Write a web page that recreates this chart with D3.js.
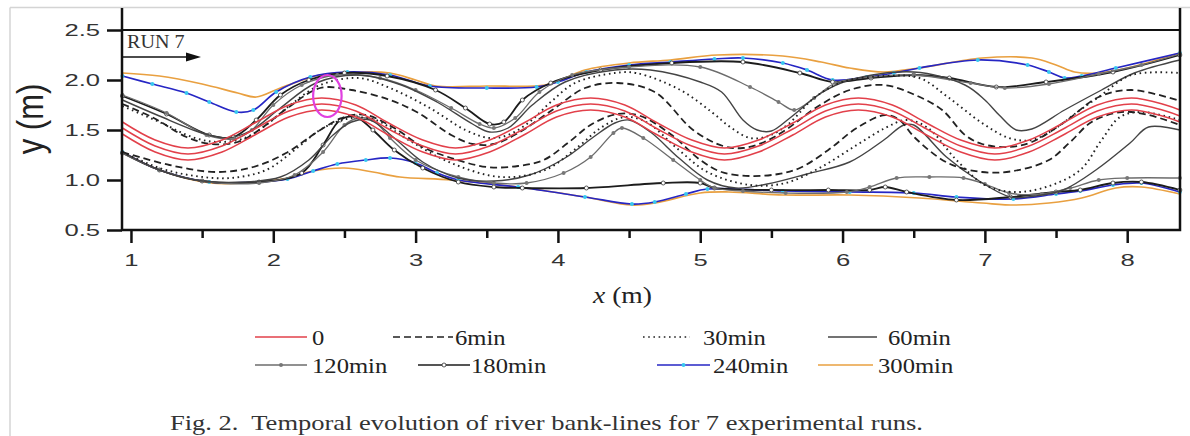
<!DOCTYPE html>
<html>
<head>
<meta charset="utf-8">
<script src="https://cdn.jsdelivr.net/npm/d3@7"></script>
<style>
  body { margin: 0; background: #fff; }
  svg { display: block; }
</style>
</head>
<body>
<div id="chart"></div>
<script>
// bank-lines, points are [x (m), y (m)]
const xTicks = [1, 2, 3, 4, 5, 6, 7, 8];
const xMinorTicks = [1.5, 2.5, 3.5, 4.5, 5.5, 6.5, 7.5];
const yTicks = [0.5, 1.0, 1.5, 2.0, 2.5];

const red0a = [[0.94,1.58],[1.17,1.40],[1.40,1.32],[1.64,1.40],[1.87,1.57],[2.11,1.75],[2.34,1.82],[2.58,1.75],[2.81,1.57],[3.05,1.40],[3.28,1.32],[3.52,1.40],[3.76,1.57],[3.99,1.75],[4.23,1.82],[4.47,1.75],[4.70,1.57],[4.94,1.40],[5.17,1.32],[5.41,1.40],[5.65,1.57],[5.88,1.75],[6.11,1.82],[6.35,1.75],[6.59,1.57],[6.83,1.40],[7.07,1.32],[7.31,1.40],[7.55,1.57],[7.79,1.75],[8.03,1.82],[8.27,1.75],[8.37,1.70]];
const red0b = [[0.94,1.52],[1.17,1.34],[1.40,1.26],[1.64,1.34],[1.87,1.51],[2.11,1.69],[2.34,1.76],[2.58,1.69],[2.81,1.51],[3.05,1.34],[3.28,1.26],[3.52,1.34],[3.76,1.51],[3.99,1.69],[4.23,1.76],[4.47,1.69],[4.70,1.51],[4.94,1.34],[5.17,1.26],[5.41,1.34],[5.65,1.51],[5.88,1.69],[6.11,1.76],[6.35,1.69],[6.59,1.51],[6.83,1.34],[7.07,1.26],[7.31,1.34],[7.55,1.51],[7.79,1.69],[8.03,1.76],[8.27,1.69],[8.37,1.64]];
const red0c = [[0.94,1.46],[1.17,1.28],[1.40,1.20],[1.64,1.28],[1.87,1.45],[2.11,1.63],[2.34,1.70],[2.58,1.63],[2.81,1.45],[3.05,1.28],[3.28,1.20],[3.52,1.28],[3.76,1.45],[3.99,1.63],[4.23,1.70],[4.47,1.63],[4.70,1.45],[4.94,1.28],[5.17,1.20],[5.41,1.28],[5.65,1.45],[5.88,1.63],[6.11,1.70],[6.35,1.63],[6.59,1.45],[6.83,1.28],[7.07,1.20],[7.31,1.28],[7.55,1.45],[7.79,1.63],[8.03,1.70],[8.27,1.63],[8.37,1.58]];

const up6 = [[0.94,1.76],[1.16,1.62],[1.39,1.43],[1.56,1.36],[1.75,1.38],[1.9,1.5],[2.1,1.72],[2.33,1.92],[2.55,1.9],[2.82,1.8],[3.02,1.67],[3.25,1.45],[3.4,1.36],[3.55,1.36],[3.72,1.47],[3.96,1.7],[4.19,1.92],[4.42,1.97],[4.68,1.88],[4.95,1.5],[5.16,1.34],[5.3,1.32],[5.45,1.38],[5.6,1.5],[5.82,1.73],[6.05,1.9],[6.29,1.95],[6.51,1.85],[6.7,1.7],[6.86,1.45],[6.98,1.36],[7.17,1.33],[7.33,1.38],[7.56,1.58],[7.8,1.83],[8.03,1.9],[8.37,1.79]];
const low6 = [[0.94,1.28],[1.27,1.15],[1.6,1.08],[1.86,1.13],[2.09,1.27],[2.33,1.5],[2.5,1.63],[2.65,1.65],[2.85,1.52],[3.05,1.33],[3.25,1.22],[3.5,1.13],[3.72,1.14],[3.9,1.2],[4.07,1.37],[4.24,1.56],[4.42,1.66],[4.58,1.64],[4.8,1.45],[5.0,1.2],[5.15,1.08],[5.35,1.04],[5.55,1.06],[5.7,1.12],[5.9,1.3],[6.1,1.52],[6.3,1.65],[6.4,1.6],[6.51,1.42],[6.74,1.17],[6.98,1.08],[7.2,1.09],[7.45,1.2],[7.6,1.38],[7.75,1.58],[7.96,1.68],[8.15,1.65],[8.37,1.55]];

const up30 = [[0.94,1.74],[1.2,1.58],[1.45,1.42],[1.62,1.38],[1.8,1.42],[1.95,1.55],[2.12,1.75],[2.33,1.95],[2.6,2.02],[2.82,1.92],[3.1,1.72],[3.35,1.5],[3.52,1.42],[3.65,1.45],[3.8,1.58],[3.95,1.78],[4.12,1.97],[4.4,2.07],[4.55,2.07],[4.86,1.9],[5.08,1.68],[5.21,1.53],[5.35,1.42],[5.48,1.44],[5.62,1.56],[5.8,1.82],[6.0,1.98],[6.3,2.04],[6.54,2.02],[6.74,1.83],[6.98,1.57],[7.17,1.42],[7.33,1.4],[7.5,1.52],[7.65,1.68],[7.8,1.83],[8.03,2.05],[8.37,2.07]];
const low30 = [[0.94,1.28],[1.2,1.12],[1.45,1.04],[1.7,1.02],[1.95,1.1],[2.15,1.3],[2.35,1.52],[2.55,1.62],[2.72,1.6],[2.95,1.4],[3.25,1.17],[3.6,1.03],[3.91,1.1],[4.14,1.33],[4.31,1.53],[4.47,1.63],[4.62,1.58],[4.85,1.3],[5.05,1.08],[5.35,0.95],[5.6,0.97],[5.85,1.13],[6.1,1.35],[6.3,1.52],[6.45,1.6],[6.6,1.52],[6.8,1.2],[7.0,0.95],[7.2,0.88],[7.43,0.93],[7.67,1.1],[7.82,1.4],[7.95,1.63],[8.1,1.68],[8.37,1.6]];

const up60 = [[0.94,1.8],[1.2,1.64],[1.5,1.47],[1.68,1.42],[1.85,1.5],[2.05,1.72],[2.3,1.97],[2.6,2.05],[2.9,1.95],[3.15,1.78],[3.4,1.56],[3.52,1.48],[3.65,1.52],[3.82,1.75],[4.05,1.98],[4.4,2.1],[4.65,2.1],[5.0,1.98],[5.15,1.88],[5.3,1.6],[5.4,1.5],[5.5,1.49],[5.63,1.62],[5.85,1.87],[6.05,2.0],[6.5,2.08],[6.86,1.95],[7.0,1.8],[7.1,1.65],[7.22,1.5],[7.33,1.51],[7.56,1.7],[7.82,1.9],[8.05,2.07],[8.37,2.2]];
const low60 = [[0.94,1.28],[1.2,1.1],[1.45,1.0],[1.8,0.98],[2.05,1.03],[2.25,1.2],[2.42,1.45],[2.55,1.58],[2.68,1.6],[2.85,1.42],[3.05,1.18],[3.3,1.02],[3.55,0.99],[3.8,1.05],[4.05,1.22],[4.25,1.43],[4.4,1.57],[4.5,1.6],[4.65,1.48],[4.85,1.22],[5.05,1.0],[5.25,0.92],[5.47,0.96],[5.75,1.06],[6.05,1.18],[6.29,1.4],[6.43,1.55],[6.5,1.55],[6.73,1.23],[6.95,1.0],[7.18,0.83],[7.35,0.84],[7.55,0.9],[7.78,1.1],[8.02,1.37],[8.15,1.53],[8.37,1.5]];

const up120 = [[0.94,1.85],[1.25,1.67],[1.53,1.45],[1.72,1.41],[1.85,1.5],[2.0,1.75],[2.2,1.95],[2.45,2.05],[2.75,2.02],[3.0,1.9],[3.25,1.72],[3.45,1.56],[3.55,1.52],[3.7,1.62],[3.87,1.88],[4.1,2.05],[4.5,2.13],[5.0,2.13],[5.35,1.93],[5.55,1.78],[5.66,1.7],[5.8,1.82],[5.95,1.97],[6.2,2.03],[6.5,2.05],[6.9,1.97],[7.14,1.92],[7.45,1.96],[7.8,2.06],[8.1,2.15],[8.37,2.26]];
const low120 = [[0.94,1.27],[1.2,1.1],[1.5,0.99],[1.9,0.97],[2.15,1.05],[2.35,1.28],[2.5,1.55],[2.6,1.62],[2.7,1.6],[2.82,1.42],[3.0,1.2],[3.3,1.03],[3.55,0.97],[3.78,0.97],[4.04,1.07],[4.23,1.23],[4.39,1.47],[4.45,1.52],[4.6,1.42],[4.81,1.2],[5.0,1.0],[5.1,0.92],[5.3,0.89],[5.6,0.87],[6.03,0.88],[6.19,0.93],[6.38,1.02],[6.61,1.03],[6.85,1.02],[7.0,0.96],[7.17,0.87],[7.4,0.86],[7.6,0.92],[7.8,1.0],[8.0,1.02],[8.37,1.02]];

const up180 = [[0.94,1.84],[1.25,1.66],[1.55,1.45],[1.72,1.43],[1.88,1.6],[2.05,1.85],[2.25,2.0],[2.5,2.07],[2.8,2.04],[3.14,1.9],[3.35,1.72],[3.52,1.56],[3.62,1.58],[3.75,1.8],[3.95,1.97],[4.3,2.1],[4.8,2.17],[5.3,2.18],[5.7,2.07],[5.93,1.98],[6.2,2.02],[6.5,2.05],[6.75,2.02],[7.08,1.93],[7.43,1.98],[7.9,2.08],[8.37,2.25]];
const low180 = [[0.94,1.27],[1.2,1.1],[1.5,0.99],[1.9,0.98],[2.2,1.07],[2.35,1.35],[2.47,1.6],[2.58,1.63],[2.7,1.5],[2.85,1.3],[3.05,1.12],[3.3,0.98],[3.55,0.93],[3.75,0.92],[4.2,0.92],[4.74,0.97],[5.0,0.97],[5.1,0.92],[5.5,0.9],[5.9,0.9],[6.19,0.9],[6.3,0.93],[6.45,0.88],[6.8,0.8],[7.18,0.83],[7.5,0.88],[7.67,0.9],[7.9,0.97],[8.1,0.98],[8.37,0.9]];

const up240 = [[0.94,2.04],[1.15,1.96],[1.39,1.87],[1.55,1.78],[1.74,1.68],[1.86,1.7],[2.02,1.88],[2.26,2.03],[2.52,2.08],[2.82,2.05],[3.1,1.94],[3.5,1.92],[3.85,1.93],[4.0,1.98],[4.2,2.08],[4.5,2.15],[4.79,2.18],[5.1,2.21],[5.3,2.22],[5.58,2.17],[5.75,2.1],[5.93,2.0],[6.17,2.03],[6.36,2.07],[6.54,2.12],[6.95,2.2],[7.3,2.15],[7.45,2.08],[7.56,2.02],[7.68,2.04],[7.92,2.12],[8.37,2.27]];
const low240 = [[0.94,1.28],[1.2,1.1],[1.55,0.98],[1.9,0.98],[2.1,1.01],[2.28,1.09],[2.45,1.16],[2.65,1.2],[2.82,1.22],[3.0,1.17],[3.15,1.07],[3.3,1.0],[3.72,0.93],[4.19,0.83],[4.52,0.76],[4.68,0.78],[4.9,0.86],[5.05,0.91],[5.58,0.89],[6.05,0.88],[6.5,0.87],[6.8,0.83],[7.2,0.81],[7.5,0.86],[7.67,0.89],[7.9,0.95],[8.1,0.97],[8.37,0.88]];

const up300 = [[0.94,2.07],[1.2,2.04],[1.5,1.96],[1.75,1.87],[1.88,1.83],[2.05,1.92],[2.33,2.05],[2.6,2.08],[2.82,2.07],[3.0,2.0],[3.14,1.94],[3.5,1.94],[3.91,1.95],[4.05,2.02],[4.19,2.1],[4.5,2.17],[4.79,2.2],[5.12,2.25],[5.58,2.24],[5.85,2.18],[6.05,2.12],[6.29,2.08],[6.54,2.12],[6.98,2.22],[7.33,2.22],[7.5,2.15],[7.63,2.08],[7.8,2.07],[8.03,2.13],[8.37,2.27]];
const low300 = [[0.94,1.28],[1.2,1.1],[1.56,0.97],[1.9,0.98],[2.1,1.02],[2.28,1.09],[2.5,1.12],[2.7,1.08],[2.89,1.03],[3.25,1.0],[3.72,0.93],[4.19,0.83],[4.52,0.75],[4.68,0.77],[5.0,0.87],[5.2,0.88],[5.58,0.85],[6.05,0.85],[6.54,0.82],[6.98,0.77],[7.21,0.75],[7.45,0.77],[7.68,0.82],[7.92,0.92],[8.1,0.93],[8.37,0.86]];

const legendRow1 = ['0', '6min', '30min', '60min'];
const legendRow2 = ['120min', '180min', '240min', '300min'];

// styles per time step
const series = [
  { name: '300min', lines: [up300, low300], color: '#e9a040', width: 1.7 },
  { name: '240min', lines: [up240, low240], color: '#2626c4', width: 1.7, marker: '#38c8f0', mstroke: 'none' },
  { name: '180min', lines: [up180, low180], color: '#1c1c1c', width: 1.8, marker: '#fff', mstroke: '#333' },
  { name: '120min', lines: [up120, low120], color: '#6c6c6c', width: 1.3, marker: '#777', mstroke: 'none' },
  { name: '60min', lines: [up60, low60], color: '#444', width: 1.4 },
  { name: '30min', lines: [up30, low30], color: '#222', width: 1.9, dash: '1.6,3.6' },
  { name: '6min', lines: [up6, low6], color: '#222', width: 1.8, dash: '7,4' },
  { name: '0', lines: [red0a, red0b, red0c], color: '#e2404a', width: 1.5 }
];

const sans = "'Liberation Sans', Arial, sans-serif";
const serif = "'Liberation Serif', 'Times New Roman', serif";

const W = 1190, H = 436;
const svg = d3.select('#chart').append('svg')
  .attr('width', W).attr('height', H);

const x = d3.scaleLinear().domain([0.937, 8.371]).range([122, 1180]);
const y = d3.scaleLinear().domain([0.5, 2.72]).range([230, 8]);

// light figure frame (scan edges)
svg.append('line').attr('x1', 10).attr('x2', W).attr('y1', 7.5).attr('y2', 7.5)
  .attr('stroke', '#d4d4d4').attr('stroke-width', 1.5);
svg.append('line').attr('x1', 10).attr('x2', 10).attr('y1', 7.5).attr('y2', H)
  .attr('stroke', '#d4d4d4').attr('stroke-width', 1.5);

const line = d3.line()
  .x(d => x(d[0]))
  .y(d => y(d[1]))
  .curve(d3.curveCatmullRom.alpha(0.5));

const plot = svg.append('g');

series.forEach(s => {
  s.lines.forEach(pts => {
    plot.append('path')
      .attr('d', line(pts))
      .attr('fill', 'none')
      .attr('stroke', s.color)
      .attr('stroke-width', s.width)
      .attr('stroke-dasharray', s.dash || null);
    if (s.marker) {
      plot.selectAll(null)
        .data(pts)
        .enter().append('circle')
        .attr('cx', d => x(d[0]))
        .attr('cy', d => y(d[1]))
        .attr('r', 2)
        .attr('fill', s.marker)
        .attr('stroke', s.mstroke)
        .attr('stroke-width', 0.8);
    }
  });
});

// magenta ellipse marking the spot
plot.append('ellipse')
  .attr('cx', x(2.38)).attr('cy', y(1.84))
  .attr('rx', x(2.48) - x(2.38)).attr('ry', y(1.84) - y(2.05))
  .attr('fill', 'none').attr('stroke', '#e040e0').attr('stroke-width', 2.2);

// flume wall at y = 2.5
svg.append('line')
  .attr('x1', x.range()[0]).attr('x2', x.range()[1])
  .attr('y1', y(2.5)).attr('y2', y(2.5))
  .attr('stroke', '#111').attr('stroke-width', 2.2);

// frame
svg.append('path')
  .attr('d', `M122,${y(2.72)}V230H1180V${y(2.72)}`)
  .attr('fill', 'none').attr('stroke', '#111').attr('stroke-width', 2.5);

// y axis
const yAxis = svg.append('g')
  .attr('transform', 'translate(122,0)')
  .call(d3.axisLeft(y).tickValues(yTicks).tickSize(15).tickFormat(d3.format('.1f')));
yAxis.select('.domain').remove();
yAxis.selectAll('line').attr('stroke', '#111').attr('stroke-width', 2.5);
yAxis.selectAll('text')
  .attr('x', 0)
  .attr('transform', 'translate(-22,0) scale(1.6,1)')
  .style('font-family', sans)
  .style('font-size', '16px')
  .attr('fill', '#333');

// x axis, major and minor ticks
const xAxis = svg.append('g')
  .attr('transform', 'translate(0,230)')
  .call(d3.axisBottom(x).tickValues(xTicks).tickSize(13).tickFormat(d3.format('d')));
xAxis.select('.domain').remove();
xAxis.selectAll('line').attr('stroke', '#111').attr('stroke-width', 2.5);
xAxis.selectAll('text')
  .attr('y', 0)
  .attr('transform', 'translate(0,25) scale(1.6,1)')
  .style('font-family', sans)
  .style('font-size', '16px')
  .attr('fill', '#333');

const xMinor = svg.append('g')
  .attr('transform', 'translate(0,230)')
  .call(d3.axisBottom(x).tickValues(xMinorTicks).tickSize(8).tickFormat(''));
xMinor.select('.domain').remove();
xMinor.selectAll('line').attr('stroke', '#111').attr('stroke-width', 2.5);

// axis titles
svg.append('text')
  .attr('transform', 'translate(43,119) scale(1.2,1) rotate(-90)')
  .attr('text-anchor', 'middle')
  .style('font-family', sans)
  .style('font-size', '31px')
  .attr('fill', '#222')
  .text('y (m)');

const xTitle = svg.append('text')
  .attr('transform', 'translate(593,303) scale(1.2,1)')
  .style('font-family', serif)
  .style('font-size', '23px')
  .attr('fill', '#222');
xTitle.append('tspan').style('font-style', 'italic').text('x');
xTitle.append('tspan').text(' (m)');

// RUN 7 note with flow arrow
svg.append('text')
  .attr('transform', 'translate(127,48) scale(1.06,1)')
  .style('font-family', serif)
  .style('font-size', '19px')
  .attr('fill', '#333')
  .text('RUN 7');
svg.append('line')
  .attr('x1', 122).attr('x2', 188).attr('y1', 57).attr('y2', 57)
  .attr('stroke', '#111').attr('stroke-width', 1.6);
svg.append('path')
  .attr('d', 'M186,52.5L201,57L186,61.5Z')
  .attr('fill', '#111');

// legend
const styleOf = name => series.find(s => s.name === name);
const legendPos = [
  { x1: 255, x2: 307, tx: 312 }, { x1: 393, x2: 453, tx: 455 },
  { x1: 643, x2: 690, tx: 703 }, { x1: 828, x2: 877, tx: 888 }
];
const legendPos2 = [
  { x1: 255, x2: 307, tx: 312 }, { x1: 418, x2: 470, tx: 471 },
  { x1: 657, x2: 710, tx: 713 }, { x1: 818, x2: 873, tx: 878 }
];

function legendRow(names, pos, ly) {
  names.forEach((n, i) => {
    const s = styleOf(n), p = pos[i];
    const g = svg.append('g');
    g.append('line')
      .attr('x1', p.x1).attr('x2', p.x2).attr('y1', ly).attr('y2', ly)
      .attr('stroke', s.color).attr('stroke-width', Math.min(s.width, 1.5))
      .attr('stroke-dasharray', s.dash || null);
    if (s.marker) {
      g.append('circle')
        .attr('cx', (p.x1 + p.x2) / 2).attr('cy', ly).attr('r', 2)
        .attr('fill', s.marker).attr('stroke', s.mstroke).attr('stroke-width', 0.8);
    }
    g.append('text')
      .attr('transform', `translate(${p.tx},${ly + 7.5}) scale(1.12,1)`)
      .style('font-family', serif)
      .style('font-size', '22px')
      .attr('fill', '#222')
      .text(n);
  });
}
legendRow(legendRow1, legendPos, 337);
legendRow(legendRow2, legendPos2, 365);

// caption
svg.append('text')
  .attr('x', 170).attr('y', 430)
  .attr('textLength', 753)
  .attr('lengthAdjust', 'spacingAndGlyphs')
  .style('white-space', 'pre')
  .style('font-family', serif)
  .style('font-size', '22px')
  .attr('fill', '#333')
  .text('Fig. 2.  Temporal evolution of river bank-lines for 7 experimental runs.');
</script>
</body>
</html>
